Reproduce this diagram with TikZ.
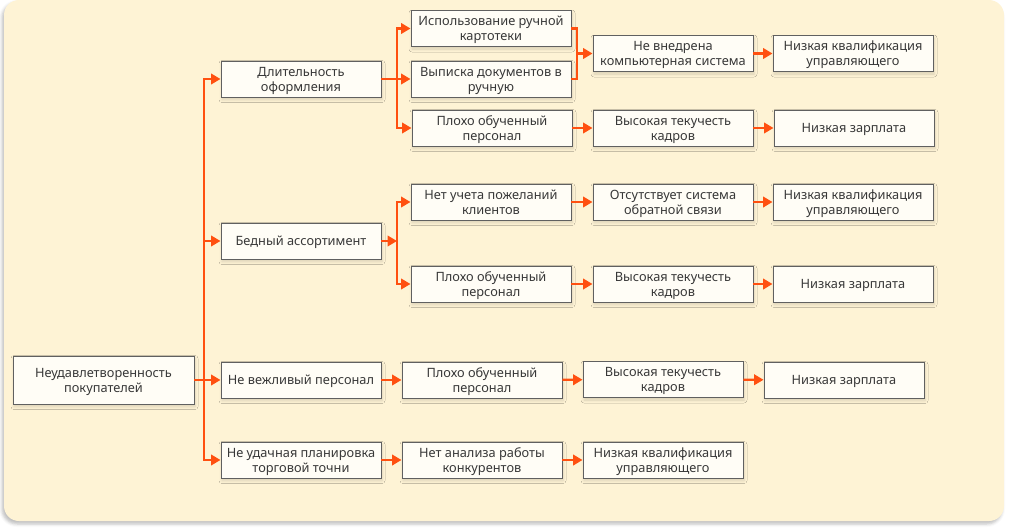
\documentclass[tikz,border=0pt]{standalone}
\usepackage{fontspec}
\setmainfont{Noto Sans}
\usetikzlibrary{arrows.meta,shadows.blur}
\definecolor{bg}{HTML}{FEF3D5}
\definecolor{org}{HTML}{FF5010}
\definecolor{bord}{HTML}{606060}
\definecolor{txt}{HTML}{383838}
\definecolor{boxfill}{HTML}{FFFDF6}
\newcommand{\boxtxt}[1]{\raisebox{-1.8pt}[\height][\depth]{\begin{tabular}{@{}c@{}}#1\end{tabular}}}
\tikzset{
  box/.style={draw=bord, line width=0.9pt, fill=boxfill, text=txt,
    minimum width=160pt, minimum height=36pt,
    font=\fontsize{12.8}{15}\selectfont, inner sep=1pt,
    blur shadow={shadow xshift=1pt, shadow yshift=-2.5pt, shadow blur radius=3pt, shadow opacity=15}},
  conn/.style={draw=org, line width=2.4pt},
  arr/.style={conn, -{Triangle[length=9.5pt,width=10.5pt]}},
}
\begin{document}
\begin{tikzpicture}[x=1pt,y=-1pt]
\useasboundingbox (0,0) rectangle (1010,530);
\fill[bg, rounded corners=15pt, blur shadow={shadow xshift=-2pt, shadow yshift=-3pt, shadow blur radius=3pt, shadow opacity=25}] (4,0) rectangle (1004,521);

% root
\node[box, minimum width=181pt, minimum height=48pt] (root) at (103.5,380) {\boxtxt{Неудавлетворенность\\покупателей}};

% level 1
\node[box] (d1) at (301,79) {\boxtxt{Длительность\\оформления}};
\node[box] (d2) at (301,241) {\boxtxt{Бедный ассортимент}};
\node[box] (d3) at (301,380) {\boxtxt{Не вежливый персонал}};
\node[box] (d4) at (301,460) {\boxtxt{Не удачная планировка\\торговой точни}};

% branch 1
\node[box] (a1) at (491,28.5) {\boxtxt{Использование ручной\\картотеки}};
\node[box] (a2) at (491,79) {\boxtxt{Выписка документов в\\ручную}};
\node[box] (a3) at (492,128) {\boxtxt{Плохо обученный\\персонал}};
\node[box] (c1) at (673,53.5) {\boxtxt{Не внедрена\\компьютерная система}};
\node[box] (e1) at (853,53.5) {\boxtxt{Низкая квалификация\\управляющего}};
\node[box] (c2) at (673,128) {\boxtxt{Высокая текучесть\\кадров}};
\node[box] (e2) at (854,128) {\boxtxt{Низкая зарплата}};

% branch 2
\node[box] (b1) at (491,202) {\boxtxt{Нет учета пожеланий\\клиентов}};
\node[box] (b2) at (491,284) {\boxtxt{Плохо обученный\\персонал}};
\node[box] (c3) at (673,202) {\boxtxt{Отсутствует система\\обратной связи}};
\node[box] (e3) at (853,202) {\boxtxt{Низкая квалификация\\управляющего}};
\node[box] (c4) at (673,284) {\boxtxt{Высокая текучесть\\кадров}};
\node[box] (e4) at (853,284) {\boxtxt{Низкая зарплата}};

% branch 3
\node[box] (f1) at (482,380) {\boxtxt{Плохо обученный\\персонал}};
\node[box] (f2) at (663,379.5) {\boxtxt{Высокая текучесть\\кадров}};
\node[box] (f3) at (844,380) {\boxtxt{Низкая зарплата}};

% branch 4
\node[box] (g1) at (482,460) {\boxtxt{Нет анализа работы\\конкурентов}};
\node[box] (g2) at (663,460) {\boxtxt{Низкая квалификация\\управляющего}};

% trunk
\coordinate (tr) at (204,380);
\draw[arr] (root.east) -- (d3.west);
\draw[arr] (tr) |- (d1.west);
\draw[arr] (tr) |- (d2.west);
\draw[arr] (tr) |- (d4.west);

% branch 1 connectors
\coordinate (j1) at (397,79);
\draw[conn] (d1.east) -- (j1);
\draw[arr] (j1) |- (a1.west);
\draw[arr] (j1) -- (a2.west);
\draw[arr] (j1) |- (a3.west);
\coordinate (k1) at (577,53.5);
\draw[conn] (a1.east) -| (k1);
\draw[conn] (a2.east) -| (k1);
\draw[arr] (k1) -- (c1.west);
\draw[arr] (c1) -- (e1);
\draw[arr] (a3) -- (c2);
\draw[arr] (c2) -- (e2);

% branch 2 connectors
\coordinate (j2) at (397,241);
\draw[arr] (d2.east) -- (j2);
\draw[arr] (j2) |- (b1.west);
\draw[arr] (j2) |- (b2.west);
\draw[arr] (b1) -- (c3);
\draw[arr] (c3) -- (e3);
\draw[arr] (b2) -- (c4);
\draw[arr] (c4) -- (e4);

% branch 3, 4
\draw[arr] (d3) -- (f1);
\draw[arr] (f1) -- (f2);
\draw[arr] (f2) -- (f3);
\draw[arr] (d4) -- (g1);
\draw[arr] (g1) -- (g2);
\end{tikzpicture}
\end{document}
